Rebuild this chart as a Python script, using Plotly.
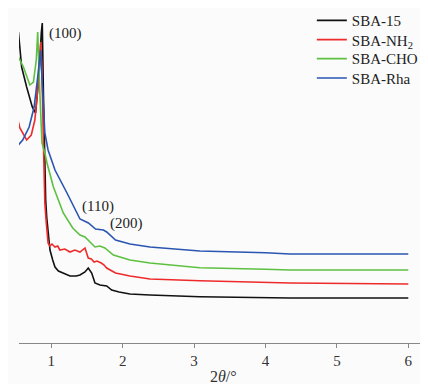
import plotly.graph_objects as go

# SBA-15 (black)
x_sba15 = [0.54, 0.585, 0.655, 0.734, 0.78, 0.83, 0.86, 0.874, 0.89, 0.905, 0.922, 0.936, 0.96, 0.982, 1.02, 1.052, 1.1, 1.168, 1.262, 1.35, 1.402, 1.472, 1.518, 1.566, 1.612, 1.682, 1.74, 1.776, 1.846, 1.95, 2.102, 2.382, 3.08, 4.0, 4.343, 6.0]
y_sba15 = [311, 276, 256, 236, 230, 270, 310, 320, 250, 180, 143, 126, 105, 93, 83, 76, 72, 70, 67, 67, 68, 71, 75, 70, 60, 58, 57, 57, 53, 51, 49, 48, 46.3, 45.5, 45, 45]

# SBA-NH2 (red)
x_nh2 = [0.54, 0.56, 0.655, 0.72, 0.77, 0.82, 0.853, 0.87, 0.89, 0.91, 0.93, 0.955, 0.98, 1.01, 1.052, 1.09, 1.12, 1.19, 1.262, 1.33, 1.402, 1.472, 1.518, 1.56, 1.6, 1.64, 1.7, 1.74, 1.776, 1.9, 2.102, 2.382, 3.08, 4.0, 4.343, 6.0]
y_nh2 = [221, 215, 203, 208, 223, 260, 301, 270, 200, 140, 120, 100, 97, 99, 96, 97, 93, 94, 91, 93, 91, 95, 85, 84, 81, 82, 80, 78, 75, 70, 67, 64, 62.3, 60.7, 60, 59]

# SBA-CHO (green)
x_cho = [0.54, 0.61, 0.70, 0.75, 0.79, 0.81, 0.84, 0.87, 0.91, 0.94, 1.03, 1.168, 1.30, 1.402, 1.472, 1.518, 1.612, 1.682, 1.75, 1.87, 2.102, 2.382, 3.08, 4.0, 4.343, 6.0]
y_cho = [286, 276, 258, 261, 283, 311, 250, 200, 190, 180, 156, 130, 115, 108, 106, 103, 96, 97, 95, 88, 83, 80, 75.3, 73.7, 73, 73]

# SBA-Rha (blue)
x_rha = [0.54, 0.60, 0.69, 0.76, 0.81, 0.85, 0.88, 0.91, 0.955, 1.052, 1.22, 1.402, 1.52, 1.62, 1.73, 1.776, 1.9, 2.102, 2.382, 3.08, 4.0, 4.343, 6.0]
y_rha = [198, 203, 216, 236, 266, 293, 250, 210, 193, 173, 150, 124, 120, 114, 113, 111, 103, 99, 96, 92, 90.3, 89, 89]

series = [
    ("SBA-15", x_sba15, y_sba15, "#111111"),
    ("SBA-NH<sub>2</sub>", x_nh2, y_nh2, "#ee2b2b"),
    ("SBA-CHO", x_cho, y_cho, "#5dc040"),
    ("SBA-Rha", x_rha, y_rha, "#2a55b0"),
]

peak_labels = ["(100)", "(110)", "(200)"]
peak_x = [1.206, 1.654, 2.06]
peak_y = [310, 137, 120]

tick_vals = [1, 2, 3, 4, 5, 6]

legend_ids = ["legend", "legend2", "legend3", "legend4"]
legend_tops = [1.0492, 0.9895, 0.9307, 0.8709]

fig = go.Figure()
for (name, xs, ys, col), lid in zip(series, legend_ids):
    fig.add_trace(go.Scatter(x=xs, y=ys, mode="lines", name=name, legend=lid,
                             line=dict(color=col, width=1.6)))

for t, xv, yv in zip(peak_labels, peak_x, peak_y):
    fig.add_annotation(x=xv, y=yv, text=t, showarrow=False,
                       font=dict(family="Liberation Serif", size=15, color="#222"))

fig.add_annotation(x=0.5, xref="paper", y=-0.105, yref="paper", yanchor="middle",
                   text="2<i>θ</i>/°", showarrow=False,
                   font=dict(family="Liberation Serif", size=16, color="#333"))

fig.update_layout(
    width=420, height=376,
    margin=dict(l=11, r=0, t=12, b=41, autoexpand=False),
    paper_bgcolor="#fbfbfb", plot_bgcolor="#fbfbfb",
    font=dict(family="Liberation Serif", size=15, color="#333"),
    showlegend=True,
)
for lid, top in zip(legend_ids, legend_tops):
    fig.update_layout({lid: dict(x=0.716, xanchor="left", y=top, yanchor="top",
                                 bgcolor="rgba(0,0,0,0)",
                                 font=dict(family="Liberation Serif", size=15, color="#222"))})

fig.update_xaxes(range=[0.548, 6.276], tickvals=tick_vals, ticks="outside", ticklen=4,
                 tickcolor="#888", showline=True, linecolor="#888", linewidth=1,
                 showgrid=False, zeroline=False,
                 tickfont=dict(family="Liberation Serif", size=15, color="#333"))
fig.update_yaxes(range=[0, 323], visible=False, showgrid=False, zeroline=False)

fig.write_html("out.html")
